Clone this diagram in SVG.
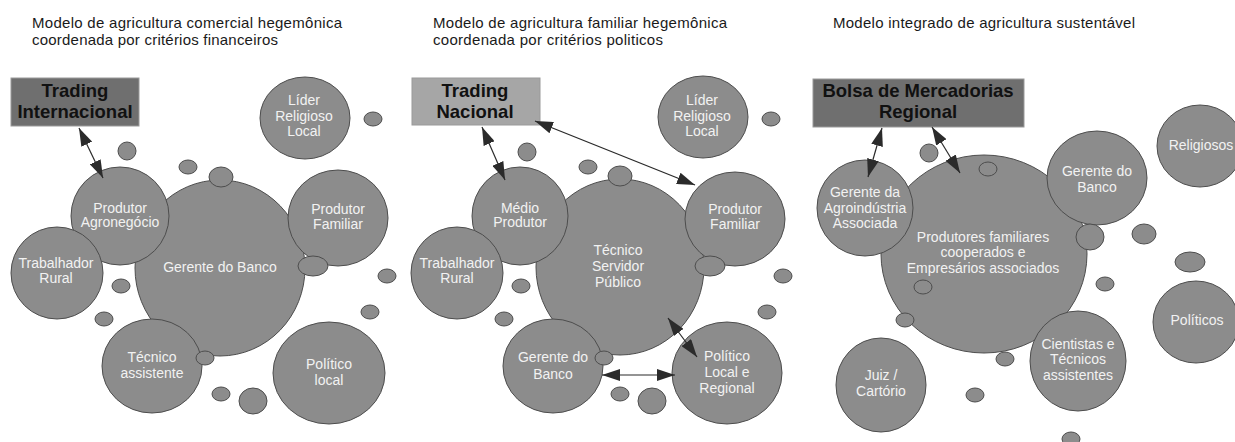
<svg xmlns="http://www.w3.org/2000/svg" width="1235" height="442" viewBox="0 0 1235 442">
<style>
  .bg { fill: #ffffff; }
  .title { font-family: "Liberation Sans", Arial, sans-serif; font-size: 15px; fill: #1a1a1a; }
  .node ellipse { fill: #8c8c8c; stroke: #4d4d4d; stroke-width: 1; }
  .dot { fill: #8c8c8c; stroke: #4d4d4d; stroke-width: 1; }
  .lbl { font-family: "Liberation Sans", Arial, sans-serif; font-size: 14px; fill: #f2f2f2; text-anchor: middle; }
  .box rect { stroke: #9a9a9a; stroke-width: 1; }
  .dark { fill: #6f6f6f; }
  .light { fill: #a6a6a6; }
  .boxlbl { font-family: "Liberation Sans", Arial, sans-serif; font-size: 18.5px; font-weight: bold; fill: #111111; text-anchor: middle; }
  .conn { stroke: #2b2b2b; stroke-width: 1.2; fill: none; marker-start: url(#ah); marker-end: url(#ah); }
</style>
<defs>
  <marker id="ah" viewBox="0 0 18 12" refX="18" refY="6" markerWidth="18" markerHeight="12" markerUnits="userSpaceOnUse" orient="auto-start-reverse">
    <path d="M0,0 L18,6 L0,12 z" fill="#2b2b2b"/>
  </marker>
</defs>
<rect class="bg" x="0" y="0" width="1235" height="442"/>

<!-- Titles -->
<g id="titles">
  <text class="title" x="32" y="28" textLength="310" lengthAdjust="spacing">Modelo de agricultura comercial hegemônica</text>
  <text class="title" x="32" y="45" textLength="246" lengthAdjust="spacing">coordenada por critérios financeiros</text>
  <text class="title" x="433" y="28" textLength="294" lengthAdjust="spacing">Modelo de agricultura familiar hegemônica</text>
  <text class="title" x="433" y="45" textLength="230" lengthAdjust="spacing">coordenada por critérios politicos</text>
  <text class="title" x="833" y="28" textLength="302" lengthAdjust="spacing">Modelo integrado de agricultura sustentável</text>
</g>

<!-- ===== Panel 1 ===== -->
<g id="p1-gerente-banco" class="node"><ellipse cx="220" cy="268" rx="85" ry="88"/><text class="lbl" x="220" y="272">Gerente do Banco</text></g>
<g id="p1-lider" class="node"><ellipse cx="305" cy="118" rx="45" ry="41"/><text class="lbl" x="304" y="105">Líder</text><text class="lbl" x="304" y="121">Religioso</text><text class="lbl" x="304" y="136">Local</text></g>
<g id="p1-produtor-agro" class="node"><ellipse cx="120" cy="216" rx="49" ry="49"/><text class="lbl" x="120" y="213">Produtor</text><text class="lbl" x="120" y="227">Agronegócio</text></g>
<g id="p1-trabalhador" class="node"><ellipse cx="57" cy="273" rx="46" ry="46"/><text class="lbl" x="56" y="268">Trabalhador</text><text class="lbl" x="56" y="283">Rural</text></g>
<g id="p1-produtor-familiar" class="node"><ellipse cx="338" cy="218" rx="50" ry="48"/><text class="lbl" x="338" y="214">Produtor</text><text class="lbl" x="338" y="229">Familiar</text></g>
<g id="p1-tecnico" class="node"><ellipse cx="152" cy="366" rx="50" ry="47"/><text class="lbl" x="152" y="362">Técnico</text><text class="lbl" x="152" y="378">assistente</text></g>
<g id="p1-politico" class="node"><ellipse cx="329" cy="373" rx="56" ry="51"/><text class="lbl" x="329" y="369">Político</text><text class="lbl" x="329" y="385">local</text></g>
<g id="p1-trading" class="box"><rect class="dark" x="11" y="78" width="128" height="48"/><text class="boxlbl" x="75" y="97">Trading</text><text class="boxlbl" x="75" y="118">Internacional</text></g>
<g id="p1-dots">
  <ellipse class="dot" cx="373" cy="119" rx="9" ry="7"/>
  <ellipse class="dot" cx="127" cy="151" rx="9" ry="9"/>
  <ellipse class="dot" cx="188" cy="167" rx="9" ry="7"/>
  <ellipse class="dot" cx="221" cy="177" rx="12" ry="10"/>
  <ellipse class="dot" cx="313" cy="266" rx="15" ry="10"/>
  <ellipse class="dot" cx="121" cy="286" rx="9" ry="7"/>
  <ellipse class="dot" cx="387" cy="276" rx="9" ry="7"/>
  <ellipse class="dot" cx="104" cy="319" rx="9" ry="7"/>
  <ellipse class="dot" cx="370" cy="312" rx="9" ry="7"/>
  <ellipse class="dot" cx="205" cy="358" rx="9" ry="7"/>
  <ellipse class="dot" cx="221" cy="394" rx="9" ry="7"/>
  <ellipse class="dot" cx="253" cy="401" rx="14" ry="13"/>
</g>

<!-- ===== Panel 2 ===== -->
<g id="p2-tecnico-servidor" class="node"><ellipse cx="620" cy="267" rx="84" ry="88"/><text class="lbl" x="618" y="255">Técnico</text><text class="lbl" x="618" y="271">Servidor</text><text class="lbl" x="618" y="287">Público</text></g>
<g id="p2-lider" class="node"><ellipse cx="703" cy="117" rx="45" ry="41"/><text class="lbl" x="702" y="105">Líder</text><text class="lbl" x="702" y="121">Religioso</text><text class="lbl" x="702" y="136">Local</text></g>
<g id="p2-medio" class="node"><ellipse cx="520" cy="216" rx="48" ry="49"/><text class="lbl" x="520" y="213">Médio</text><text class="lbl" x="520" y="227">Produtor</text></g>
<g id="p2-trabalhador" class="node"><ellipse cx="457" cy="273" rx="46" ry="46"/><text class="lbl" x="457" y="268">Trabalhador</text><text class="lbl" x="457" y="283">Rural</text></g>
<g id="p2-produtor-familiar" class="node"><ellipse cx="735" cy="219" rx="50" ry="47"/><text class="lbl" x="735" y="214">Produtor</text><text class="lbl" x="735" y="229">Familiar</text></g>
<g id="p2-gerente-banco" class="node"><ellipse cx="553" cy="366" rx="50" ry="47"/><text class="lbl" x="553" y="362">Gerente do</text><text class="lbl" x="553" y="379">Banco</text></g>
<g id="p2-politico" class="node"><ellipse cx="727" cy="373" rx="55" ry="51"/><text class="lbl" x="727" y="361">Político</text><text class="lbl" x="727" y="377">Local e</text><text class="lbl" x="727" y="393">Regional</text></g>
<g id="p2-trading" class="box"><rect class="light" x="412" y="78" width="128" height="47"/><text class="boxlbl" x="475" y="97">Trading</text><text class="boxlbl" x="475" y="118">Nacional</text></g>
<g id="p2-dots">
  <ellipse class="dot" cx="771" cy="119" rx="9" ry="7"/>
  <ellipse class="dot" cx="527" cy="152" rx="9" ry="9"/>
  <ellipse class="dot" cx="588" cy="167" rx="9" ry="7"/>
  <ellipse class="dot" cx="620" cy="176" rx="12" ry="10"/>
  <ellipse class="dot" cx="710" cy="266" rx="15" ry="10"/>
  <ellipse class="dot" cx="521" cy="286" rx="9" ry="7"/>
  <ellipse class="dot" cx="783" cy="276" rx="9" ry="7"/>
  <ellipse class="dot" cx="504" cy="319" rx="9" ry="7"/>
  <ellipse class="dot" cx="767" cy="312" rx="9" ry="7"/>
  <ellipse class="dot" cx="604" cy="358" rx="9" ry="7"/>
  <ellipse class="dot" cx="620" cy="394" rx="9" ry="7"/>
  <ellipse class="dot" cx="652" cy="401" rx="14" ry="13"/>
</g>

<!-- ===== Panel 3 ===== -->
<g id="p3-produtores" class="node"><ellipse cx="984" cy="254" rx="103" ry="99"/><text class="lbl" x="983" y="242">Produtores familiares</text><text class="lbl" x="983" y="257">cooperados e</text><text class="lbl" x="983" y="273">Empresários associados</text></g>
<g id="p3-gerente-agro" class="node"><ellipse cx="865" cy="208" rx="48" ry="48"/><text class="lbl" x="865" y="197">Gerente da</text><text class="lbl" x="865" y="213">Agroindústria</text><text class="lbl" x="865" y="228">Associada</text></g>
<g id="p3-gerente-banco" class="node"><ellipse cx="1097" cy="178" rx="50" ry="47"/><text class="lbl" x="1097" y="176">Gerente do</text><text class="lbl" x="1097" y="192">Banco</text></g>
<g id="p3-religiosos" class="node"><ellipse cx="1200" cy="146" rx="43" ry="41"/><text class="lbl" x="1201" y="150">Religiosos</text></g>
<g id="p3-politicos" class="node"><ellipse cx="1196" cy="322" rx="43" ry="41"/><text class="lbl" x="1197" y="325">Políticos</text></g>
<g id="p3-cientistas" class="node"><ellipse cx="1078" cy="361" rx="48" ry="50"/><text class="lbl" x="1078" y="349">Cientistas e</text><text class="lbl" x="1078" y="364">Técnicos</text><text class="lbl" x="1078" y="380">assistentes</text></g>
<g id="p3-juiz" class="node"><ellipse cx="881" cy="385" rx="45" ry="47"/><text class="lbl" x="881" y="380">Juiz /</text><text class="lbl" x="881" y="396">Cartório</text></g>
<g id="p3-bolsa" class="box"><rect class="dark" x="813" y="79" width="211" height="48"/><text class="boxlbl" x="918" y="97">Bolsa de Mercadorias</text><text class="boxlbl" x="918" y="118">Regional</text></g>
<g id="p3-dots">
  <ellipse class="dot" cx="929" cy="153" rx="9" ry="9"/>
  <ellipse class="dot" cx="988" cy="169" rx="9" ry="7"/>
  <ellipse class="dot" cx="1090" cy="237" rx="14" ry="13"/>
  <ellipse class="dot" cx="1144" cy="234" rx="12" ry="10"/>
  <ellipse class="dot" cx="1190" cy="262" rx="15" ry="10"/>
  <ellipse class="dot" cx="923" cy="287" rx="9" ry="7"/>
  <ellipse class="dot" cx="1105" cy="284" rx="9" ry="7"/>
  <ellipse class="dot" cx="905" cy="320" rx="9" ry="7"/>
  <ellipse class="dot" cx="1005" cy="359" rx="9" ry="7"/>
  <ellipse class="dot" cx="975" cy="395" rx="9" ry="7"/>
  <ellipse class="dot" cx="1071" cy="439" rx="9" ry="7"/>
</g>

<!-- ===== Connectors ===== -->
<g id="connectors">
  <line class="conn" x1="79" y1="128" x2="103" y2="178"/>
  <line class="conn" x1="482" y1="127" x2="505" y2="180"/>
  <line class="conn" x1="535" y1="121" x2="695" y2="185"/>
  <line class="conn" x1="668" y1="318" x2="697" y2="357"/>
  <line class="conn" x1="602" y1="375" x2="675" y2="375"/>
  <line class="conn" x1="882" y1="128" x2="868" y2="177"/>
  <line class="conn" x1="932" y1="127" x2="960" y2="173"/>
</g>
</svg>
